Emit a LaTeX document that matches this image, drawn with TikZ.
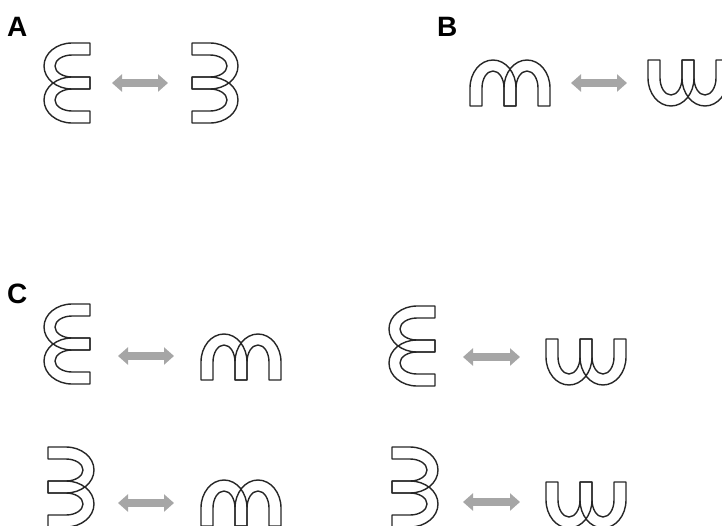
\documentclass[tikz,border=0pt]{standalone}
\usepackage{fontspec}
\setmainfont{Liberation Sans}
\usepackage{tikz}
\usetikzlibrary{arrows.meta}
\definecolor{bandgray}{rgb}{0.15, 0.15, 0.15}
\definecolor{arrowgray}{rgb}{0.65, 0.65, 0.65}

\tikzset{
  bandline/.style={draw=bandgray, line width=1.4pt, line join=round},
  swaparrow/.style={arrowgray, line width=8pt,
    {Triangle[length=10pt,width=17pt]}-{Triangle[length=10pt,width=17pt]}},
  panellabel/.style={anchor=base west, inner sep=0pt, font=\fontsize{28}{28}\selectfont\bfseries},
  % two overlapping arches: open ends on the base line, bulge pointing away from it
  twoband/.pic={
    \foreach \s in {-17,17}{
      \draw[bandline, shift={(\s,0)}] (-23,0) -- (-23,18)
        arc[start angle=180, end angle=0, x radius=23, y radius=28]
        -- (23,0) -- (11,0) -- (11,18)
        arc[start angle=0, end angle=180, x radius=11, y radius=17]
        -- (-11,0) -- cycle;
    }
  }
}

\begin{document}
\begin{tikzpicture}[x=1pt,y=1pt]

\useasboundingbox (0,0) rectangle (722,-525);
\clip (0,0) rectangle (722,-525);

% Panel labels
\node[panellabel] (labA) at (7,-36) {A};
\node[panellabel] (labB) at (437,-36) {B};
\node[panellabel] (labC) at (7,-303) {C};

% Panel A
\pic[rotate=90]  at (90,-83)  {twoband};
\pic[rotate=-90] at (192,-83) {twoband};
\coordinate (a1) at (112,-83);
\coordinate (a2) at (168,-83);
\draw[swaparrow] (a1) -- (a2);

% Panel B
\pic             at (510,-106) {twoband};
\pic[rotate=180] at (688,-60)  {twoband};
\coordinate (b1) at (571,-83);
\coordinate (b2) at (627,-83);
\draw[swaparrow] (b1) -- (b2);

% Panel C, top row
\pic[rotate=90]  at (90,-344)  {twoband};
\pic             at (241,-380) {twoband};
\coordinate (c1) at (118,-356);
\coordinate (c2) at (174,-356);
\draw[swaparrow] (c1) -- (c2);

\pic[rotate=90]  at (435,-346) {twoband};
\pic[rotate=180] at (586,-339) {twoband};
\coordinate (c3) at (463,-357);
\coordinate (c4) at (520,-357);
\draw[swaparrow] (c3) -- (c4);

% Panel C, bottom row
\pic[rotate=-90] at (48,-487)  {twoband};
\pic             at (241,-526) {twoband};
\coordinate (c5) at (118,-503);
\coordinate (c6) at (174,-503);
\draw[swaparrow] (c5) -- (c6);

\pic[rotate=-90] at (392,-487) {twoband};
\pic[rotate=180] at (586,-482) {twoband};
\coordinate (c7) at (463,-502);
\coordinate (c8) at (520,-502);
\draw[swaparrow] (c7) -- (c8);

\end{tikzpicture}
\end{document}
